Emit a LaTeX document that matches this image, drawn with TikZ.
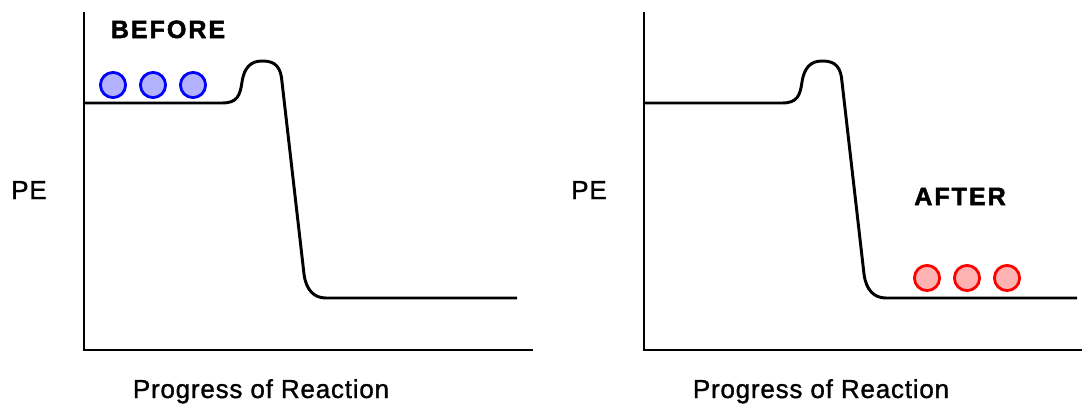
\documentclass[tikz,border=0pt]{standalone}
\usepackage{fontspec}
\setmainfont{Liberation Sans}
\usepackage{tikz}
\usetikzlibrary{positioning}
\newfontfamily\labelfont[LetterSpace=3, FakeBold=1.2]{Liberation Sans}
\newfontfamily\tagfont[LetterSpace=8, FakeBold=2]{Liberation Sans Bold}
\definecolor{ballBlue}{rgb}{0,0,1}
\definecolor{ballRed}{rgb}{1,0,0}

\begin{document}
\begin{tikzpicture}[x=0.025cm, y=-0.025cm,
    axisline/.style={line width=2.1pt, black},
    energy/.style={line width=2.1pt, black, line join=round},
    axislabel/.style={font=\labelfont\fontsize{18.5}{20}\selectfont, anchor=base, inner sep=0pt},
    tag/.style={font=\tagfont\fontsize{17.8}{20}\selectfont, anchor=base, inner sep=0pt},
    ball/.style={line width=2pt}]
    \useasboundingbox (0,0) rectangle (1082,404);

    % Left panel: before
    \coordinate (LO) at (84,350);
    \coordinate (LT) at (84,12);
    \coordinate (LX) at (533,350);
    \draw[axisline] (LT) -- (LO) -- (LX);
    \draw[energy] (84,103) -- (222,103)
        .. controls (237,103) and (240,96) .. (242,82)
        .. controls (245,62) and (256,61) .. (263,61)
        .. controls (276,61) and (281,68) .. (282,82)
        -- (304,274)
        .. controls (306,290) and (314,298) .. (326,298)
        -- (517,298);
    \node[axislabel] (peL) at (29,199) {PE};
    \node[axislabel] (progL) at (261,398) {Progress of Reaction};
    \node[tag] (before) at (168,38) {BEFORE};
    \draw[ball, draw=ballBlue, fill=ballBlue!30] (113,85) circle (12.6);
    \draw[ball, draw=ballBlue, fill=ballBlue!30] (153,85) circle (12.6);
    \draw[ball, draw=ballBlue, fill=ballBlue!30] (193,85) circle (12.6);

    % Right panel: after
    \begin{scope}[xshift=560*0.025cm]
        \coordinate (RO) at (84,350);
        \coordinate (RT) at (84,12);
        \coordinate (RX) at (533,350);
        \draw[axisline] (RT) -- (RO) -- (RX);
        \draw[energy] (84,103) -- (222,103)
            .. controls (237,103) and (240,96) .. (242,82)
            .. controls (245,62) and (256,61) .. (263,61)
            .. controls (276,61) and (281,68) .. (282,82)
            -- (304,274)
            .. controls (306,290) and (314,298) .. (326,298)
            -- (517,298);
        \node[axislabel] (peR) at (29,199) {PE};
        \node[axislabel] (progR) at (261,398) {Progress of Reaction};
        \node[tag] (after) at (400,205) {AFTER};
        \draw[ball, draw=ballRed, fill=ballRed!30] (367,278) circle (12.6);
        \draw[ball, draw=ballRed, fill=ballRed!30] (407,278) circle (12.6);
        \draw[ball, draw=ballRed, fill=ballRed!30] (447,278) circle (12.6);
    \end{scope}
\end{tikzpicture}
\end{document}
